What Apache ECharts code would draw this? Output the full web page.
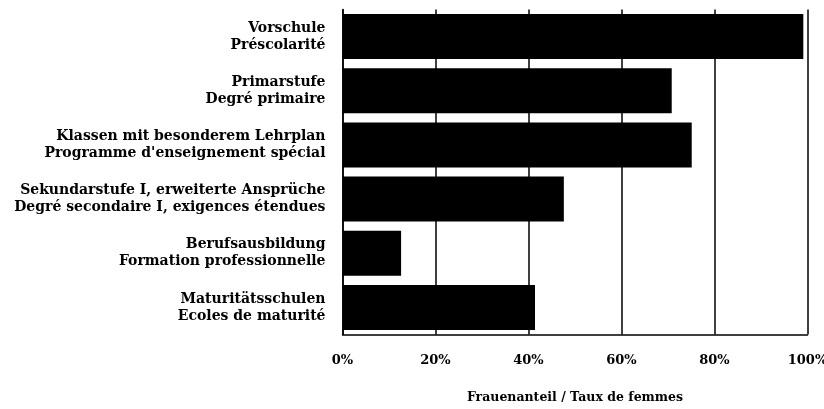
<!DOCTYPE html>
<html>
<head>
<meta charset="utf-8">
<script src="https://cdn.jsdelivr.net/npm/echarts@6/dist/echarts.min.js"></script>
<style>html,body{margin:0;padding:0;background:#fff}#c{width:824px;height:409px}</style>
</head>
<body>
<div id="c"></div>
<script>
const categories = [
  "Vorschule\nPréscolarité",
  "Primarstufe\nDegré primaire",
  "Klassen mit besonderem Lehrplan\nProgramme d'enseignement spécial",
  "Sekundarstufe I, erweiterte Ansprüche\nDegré secondaire I, exigences étendues",
  "Berufsausbildung\nFormation professionnelle",
  "Maturitätsschulen\nEcoles de maturité"
];
const femaleShare = [99.1, 70.8, 75.1, 47.6, 12.6, 41.4];
const tickLabels = ["0%", "20%", "40%", "60%", "80%", "100%"];
const axisTitle = "Frauenanteil / Taux de femmes";

const chart = echarts.init(document.getElementById('c'), null, {renderer: 'canvas'});
const font = "DejaVu Serif";
chart.setOption({
  animation: false,
  backgroundColor: '#fff',
  grid: {left: 342.5, right: 16.5, top: 9.5, bottom: 74.5, containLabel: false, outerBoundsMode: 'none'},
  xAxis: {
    type: 'value', min: 0, max: 100, interval: 20,
    axisLine: {show: true, lineStyle: {color: '#000', width: 1.5}},
    axisTick: {show: false},
    splitLine: {show: true, lineStyle: {color: '#000', width: 1.5}},
    axisLabel: {
      formatter: (v) => tickLabels[Math.round(v / 20)],
      color: '#000', fontFamily: font, fontWeight: 'bold', fontSize: 13, margin: 20
    },
    name: axisTitle, nameLocation: 'middle', nameGap: 57,
    nameTextStyle: {color: '#000', fontFamily: font, fontWeight: 'bold', fontSize: 12.5}
  },
  yAxis: {
    type: 'category', data: categories, inverse: true,
    axisLine: {show: true, lineStyle: {color: '#000', width: 1.5}},
    axisTick: {show: false},
    axisLabel: {
      color: '#000', fontFamily: font, fontWeight: 'bold', fontSize: 14,
      lineHeight: 17, margin: 17, align: 'right'
    }
  },
  series: [{
    type: 'bar', data: femaleShare, barCategoryGap: '17%',
    itemStyle: {color: '#000'}, silent: true
  }]
});
</script>
</body>
</html>
